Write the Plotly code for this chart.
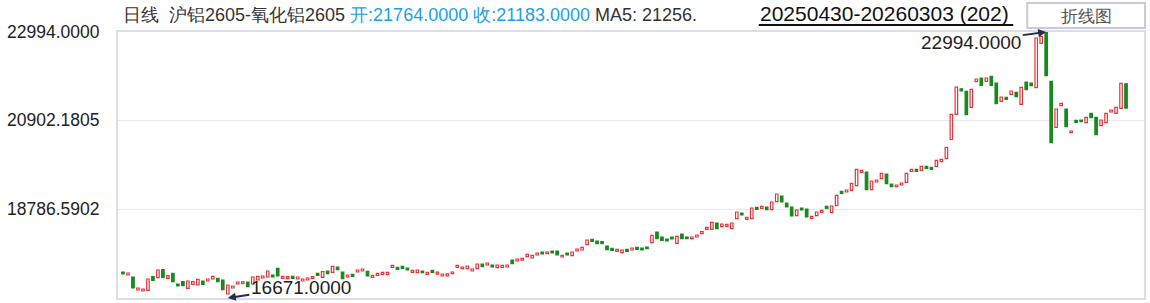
import plotly.graph_objects as go

OPEN = [
    17289,17218,17170,16861,16837,16854,17177,17154,17344,17139,
    17258,17004,17058,16902,16997,16980,17075,17075,17123,17139,
    17099,16766,16909,17004,17010,17051,17004,17099,17146,17170,
    17218,17377,17139,17130,17187,17123,17075,17099,17139,17258,
    17163,17313,17282,17408,17289,17170,17234,17289,17313,17306,
    17163,17211,17234,17225,17401,17401,17424,17384,17282,17272,
    17313,17234,17329,17240,17194,17195,17249,17400,17367,17367,
    17313,17367,17479,17455,17455,17391,17401,17408,17574,17550,
    17570,17653,17622,17693,17765,17724,17788,17788,17646,17741,
    17677,17788,17812,17938,18066,18026,18010,17907,17852,17781,
    17748,17829,17812,17876,17860,17883,17985,18240,18121,18073,
    18121,17971,18192,18121,18081,18121,18199,18304,18304,18454,
    18366,18375,18318,18556,18691,18542,18556,18827,18803,18834,
    18770,18960,19096,18929,18834,18627,18810,18786,18566,18627,
    18708,18851,18699,18865,19207,19191,19231,19340,19659,19666,
    19245,19428,19507,19618,19381,19317,19357,19421,19683,19730,
    19706,19802,19778,19802,19911,19982,20439,21038,21645,21584,
    21204,21813,21900,21822,21941,21782,21347,21442,21513,21560,
    21275,21805,21782,21670,22725,22990,21822,20729,21242,21164,
    20600,20895,20902,20838,21061,20966,20767,20838,21092,21061,
    21180,21764,
]
CLOSE = [
    17241,17265,16909,16909,16885,17123,17092,17337,17163,17201,
    17058,16956,16963,17075,17058,17116,16997,17123,17187,17058,
    16868,16980,16956,17051,17055,16940,17170,17187,17194,17313,
    17170,17194,17187,17178,17139,17170,17123,17146,17177,17211,
    17296,17249,17424,17344,17130,17218,17187,17337,17360,17194,
    17211,17258,17282,17282,17448,17353,17377,17337,17329,17337,
    17272,17282,17282,17285,17241,17245,17289,17448,17408,17432,
    17360,17479,17415,17503,17408,17455,17448,17455,17486,17598,
    17615,17710,17686,17741,17717,17764,17741,17693,17686,17693,
    17764,17836,17876,18050,18019,17962,17960,17819,17805,17829,
    17812,17781,17860,17829,17812,17843,18161,18081,18043,18026,
    18073,18138,18081,18081,18121,18168,18247,18352,18470,18318,
    18430,18423,18454,18715,18644,18589,18810,18779,18851,18770,
    18953,19143,18953,18834,18620,18763,18763,18596,18613,18715,
    18756,18803,18858,19112,19160,19238,19397,19730,19706,19245,
    19452,19476,19635,19388,19317,19357,19405,19635,19730,19683,
    19802,19754,19730,19944,19968,20253,21038,21686,21595,21028,
    21632,21877,21727,21900,21727,21290,21449,21394,21591,21456,
    21679,21622,21718,22851,22892,21955,20362,21164,21299,20743,
    20641,20847,20862,20966,20957,20553,20902,21061,21140,21204,
    21775,21183,
]
Y_TICKS = [22994.0000, 20902.1805, 18786.5902]
Y_TICK_TEXT = ["22994.0000", "20902.1805", "18786.5902"]
HIGH_MAX = 22994.0
LOW_MIN = 16671.0
HIGH_IDX = 185
LOW_IDX = 21

RED = "#e8323c"
GREEN = "#178a1e"

idx = list(range(len(OPEN)))
up_x, up_base, up_h = [], [], []
dn_x, dn_base, dn_h = [], [], []
for i, (o, c) in zip(idx, zip(OPEN, CLOSE)):
    if c >= o:
        up_x.append(i); up_base.append(o); up_h.append(c - o)
    else:
        dn_x.append(i); dn_base.append(c); dn_h.append(o - c)

fig = go.Figure()
fig.add_trace(go.Bar(x=up_x, y=up_h, base=up_base, width=0.5,
                     marker=dict(color="white", line=dict(color=RED, width=1.2)),
                     hoverinfo="skip"))
fig.add_trace(go.Bar(x=dn_x, y=dn_h, base=dn_base, width=0.5,
                     marker=dict(color=GREEN, line=dict(color=GREEN, width=1.2)),
                     hoverinfo="skip"))

W, H = 1150, 303
L, R, T, B = 118, 4, 32, 5
pw, ph = W - L - R, H - T - B

def px(x):
    return (x - L) / pw

def py(y):
    return (H - B - y) / ph

FONT = "Liberation Sans, Arial, sans-serif"

fig.update_layout(
    width=W, height=H,
    margin=dict(l=L, r=R, t=T, b=B),
    paper_bgcolor="white", plot_bgcolor="white",
    showlegend=False, barmode="overlay",
    font=dict(family=FONT, color="#222"),
    xaxis=dict(range=[-1, 204.6], showgrid=False, zeroline=False,
               showticklabels=False, showline=True, linecolor="#dcdcea",
               linewidth=2, mirror=True, ticks=""),
    yaxis=dict(range=[LOW_MIN, HIGH_MAX], tickvals=Y_TICKS, ticktext=Y_TICK_TEXT,
               showgrid=True, gridcolor="#e8e8f2", gridwidth=1, zeroline=False,
               showline=True, linecolor="#dcdcea", linewidth=2, mirror=True,
               ticks="", ticklabelstandoff=13,
               tickfont=dict(size=17.5, color="#222", family=FONT)),
)

header = ("日线&nbsp;&nbsp;沪铝2605-氧化铝2605 "
          "<span style='color:#1a9fe6'>开:21764.0000 收:21183.0000</span> "
          "MA5: 21256.")
fig.add_annotation(xref="paper", yref="paper", x=px(121), y=py(15),
                   xanchor="left", yanchor="middle", showarrow=False,
                   text=header, font=dict(size=18, color="#333", family=FONT))
fig.add_annotation(xref="paper", yref="paper", x=px(759), y=py(14),
                   xanchor="left", yanchor="middle", showarrow=False,
                   text="20250430-20260303 (202)",
                   font=dict(size=21, color="#111", family=FONT))
fig.add_shape(type="line", xref="paper", yref="paper",
              x0=px(760), x1=px(1015), y0=py(25), y1=py(25),
              line=dict(color="#111", width=2))
fig.add_shape(type="rect", xref="paper", yref="paper",
              x0=px(1029), x1=px(1147), y0=py(28), y1=py(3),
              line=dict(color="#c9c9dd", width=2), fillcolor="white")
fig.add_annotation(xref="paper", yref="paper", x=px(1088), y=py(16),
                   xanchor="center", yanchor="middle", showarrow=False,
                   text="折线图", font=dict(size=17, color="#555", family=FONT))

fig.add_annotation(x=HIGH_IDX, y=HIGH_MAX, text=f"{HIGH_MAX:.4f}",
                   showarrow=True, arrowhead=2, arrowsize=0.8, arrowwidth=2,
                   arrowcolor="#2a2a44", ax=-75, ay=10,
                   font=dict(size=19, color="#222", family=FONT))
fig.add_annotation(x=LOW_IDX, y=LOW_MIN, text=f"{LOW_MIN:.4f}",
                   showarrow=True, arrowhead=2, arrowsize=0.8, arrowwidth=2,
                   arrowcolor="#2a2a44", ax=73, ay=-11,
                   font=dict(size=19, color="#222", family=FONT))

fig.write_html("out.html")
